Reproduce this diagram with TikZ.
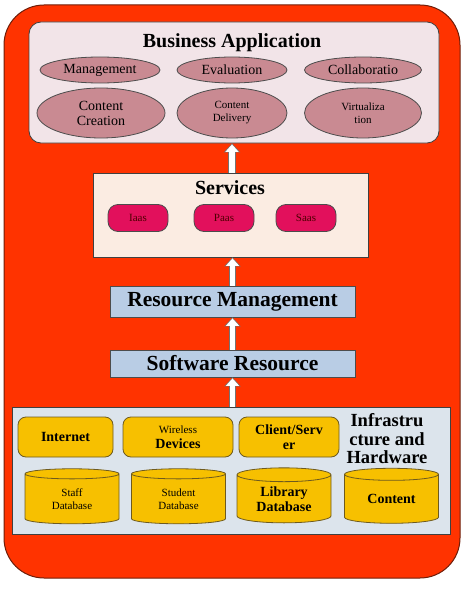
\documentclass[tikz,border=0pt]{standalone}
\usepackage{fontspec}
\setmainfont{Liberation Serif}
\usetikzlibrary{positioning,arrows.meta,shapes.geometric,calc}

\definecolor{outerred}{RGB}{255,51,0}
\definecolor{outeredge}{RGB}{110,30,10}
\definecolor{bizpink}{RGB}{242,228,232}
\definecolor{ovalrose}{RGB}{201,138,146}
\definecolor{servpeach}{RGB}{251,236,226}
\definecolor{pillmagenta}{RGB}{226,16,92}
\definecolor{layerblue}{RGB}{185,205,229}
\definecolor{infragrey}{RGB}{220,228,236}
\definecolor{hwyellow}{RGB}{247,192,0}
\definecolor{hwedge}{RGB}{110,90,30}

\begin{document}
\begin{tikzpicture}[
  x=1pt, y=-1pt,
  frame/.style={rounded corners=40pt, draw=outeredge, line width=1pt, fill=outerred, minimum width=456pt, minimum height=573pt},
  panel/.style={draw=black!75, line width=0.8pt, inner sep=0pt},
  title/.style={font=\fontsize{20}{22}\selectfont\bfseries},
  oval/.style={ellipse, draw=black!70, line width=0.8pt, fill=ovalrose, inner sep=0pt, align=center, font=\fontsize{14}{15}\selectfont},
  pill/.style={rounded corners=10pt, draw=black!70, line width=0.8pt, fill=pillmagenta, minimum width=60pt, minimum height=27pt, font=\fontsize{11}{12}\selectfont\color{black!70!red}},
  layerbox/.style={draw=black!70, line width=0.8pt, fill=layerblue, minimum width=245pt, font=\fontsize{21.5}{23}\selectfont\bfseries},
  hwbox/.style={rounded corners=8pt, draw=hwedge, line width=0.8pt, fill=hwyellow, minimum height=40pt, align=center, font=\fontsize{14}{15}\selectfont\bfseries},
  store/.style={cylinder, shape border rotate=90, aspect=0.25, draw=hwedge, line width=0.8pt, fill=hwyellow, minimum width=94pt, minimum height=55pt, inner sep=0pt, align=center, font=\fontsize{14}{15}\selectfont\bfseries},
  small/.style={font=\fontsize{11}{13}\selectfont},
  uparr/.style={line width=7.5pt, draw=black!55, -{Triangle[length=9pt,width=16pt]},
    postaction={draw=white, line width=5.5pt, -{Triangle[length=7.5pt,width=13pt]}, shorten >=1pt}}
]
\useasboundingbox (0,0) rectangle (462,594);

% ---------- outer frame ----------
\node[frame] (frame) at (232,291.5) {};

% ---------- Business Application ----------
\node[panel, rounded corners=12pt, fill=bizpink, minimum width=410pt, minimum height=121pt] (biz) at (234,82.5) {};
\node[title] (biztitle) at (232,43) {Business Application};

\node[oval, minimum width=120pt, minimum height=26pt] (mgmt)   at (100,70) {Management};
\node[oval, minimum width=110pt, minimum height=26pt] (eval)   at (232,70) {Evaluation};
\node[oval, minimum width=117pt, minimum height=26pt] (collab) at (363,70) {Collaboratio};

\node[oval, minimum width=128pt, minimum height=50pt] (creation) at (101,113) {Content\\Creation};
\node[oval, minimum width=110pt, minimum height=50pt, small] (delivery) at (232,113) {Content\\Delivery};
\node[oval, minimum width=117pt, minimum height=50pt, small] (virtual)  at (363,113) {Virtualiza\\tion};

% ---------- Services ----------
\node[panel, fill=servpeach, minimum width=275pt, minimum height=84pt] (services) at (230.5,215) {};
\node[title] (servtitle) at (230,188) {Services};

\node[pill] (iaas) at (138,218) {Iaas};
\node[pill] (paas) at (224,218) {Paas};
\node[pill] (saas) at (306,218) {Saas};

% ---------- resource layers ----------
\node[layerbox, minimum height=31pt] (resmgmt) at (232.5,301.5) {Resource Management};
\node[layerbox, minimum height=27pt] (softres) at (232.5,363.5) {Software Resource};

% ---------- Infrastructure and Hardware ----------
\node[panel, fill=infragrey, minimum width=438pt, minimum height=127pt] (infra) at (231,470.5) {};
\node[title, align=center, font=\fontsize{18.5}{18.5}\selectfont\bfseries] (infratitle) at (387,439) {Infrastru\\cture and\\Hardware};

\node[hwbox, minimum width=95pt]  (internet)  at (65.5,437) {Internet};
\node[hwbox, minimum width=110pt] (wireless)  at (178,437)  {{\fontsize{11}{13}\mdseries\selectfont Wireless}\\Devices};
\node[hwbox, minimum width=100pt] (clientsrv) at (289,437)  {Client/Serv\\er};

\node[store, small, font=\fontsize{11}{13}\selectfont] (staffdb)   at (72,499)  {Staff\\Database};
\node[store, font=\fontsize{11}{13}\selectfont]        (studentdb) at (178.5,499) {Student\\Database};
\node[store]                                          (librarydb) at (284,499)  {Library\\Database};
\node[store]                                          (contentdb) at (391.5,499) {Content};

% ---------- upward arrows between the layers ----------
\draw[uparr] (services.north -| biztitle) -- (biz.south -| biztitle);
\draw[uparr] (resmgmt.north) -- (resmgmt.north |- services.south);
\draw[uparr] (softres.north) -- (softres.north |- resmgmt.south);
\draw[uparr] (infra.north -| softres) -- (softres.south);

\end{tikzpicture}
\end{document}
